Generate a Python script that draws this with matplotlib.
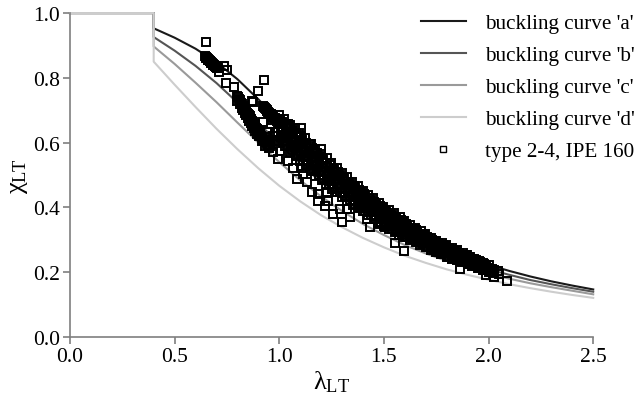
import numpy as np
import matplotlib
matplotlib.use("Agg")
import matplotlib.pyplot as plt

plt.rcParams["font.family"] = ["Liberation Serif", "DejaVu Serif"]
plt.rcParams["mathtext.fontset"] = "custom"
plt.rcParams["mathtext.rm"] = "Liberation Serif"
plt.rcParams["mathtext.it"] = "Liberation Serif"

# buckling curves (EC3), values read at slenderness steps of 0.1
lam_curve = [0.0, 0.4, 0.4, 0.5, 0.6, 0.7, 0.8, 0.9, 1.0, 1.1, 1.2, 1.3, 1.4,
             1.5, 1.6, 1.7, 1.8, 1.9, 2.0, 2.1, 2.2, 2.3, 2.4, 2.5]
chi_a = [1.0, 1.0, 0.953, 0.924, 0.890, 0.848, 0.796, 0.734, 0.666, 0.596, 0.530, 0.470,
         0.418, 0.372, 0.333, 0.299, 0.270, 0.245, 0.223, 0.204, 0.187, 0.172, 0.159, 0.147]
chi_b = [1.0, 1.0, 0.926, 0.884, 0.837, 0.784, 0.724, 0.661, 0.597, 0.535, 0.478, 0.427,
         0.382, 0.342, 0.308, 0.278, 0.252, 0.229, 0.209, 0.192, 0.176, 0.163, 0.151, 0.140]
chi_c = [1.0, 1.0, 0.897, 0.843, 0.785, 0.725, 0.662, 0.600, 0.540, 0.484, 0.434, 0.389,
         0.349, 0.315, 0.284, 0.258, 0.235, 0.214, 0.196, 0.180, 0.166, 0.154, 0.143, 0.132]
chi_d = [1.0, 1.0, 0.850, 0.779, 0.710, 0.643, 0.580, 0.521, 0.467, 0.419, 0.376, 0.339,
         0.306, 0.277, 0.251, 0.229, 0.209, 0.192, 0.177, 0.163, 0.151, 0.140, 0.130, 0.121]

curve_labels = ["buckling curve 'a'", "buckling curve 'b'",
                "buckling curve 'c'", "buckling curve 'd'"]
curve_colors = ["#1a1a1a", "#555555", "#9a9a9a", "#cdcdcd"]

# test results type 2-4, IPE 160 (lambda_LT, chi_LT)
tests = [
    (0.650, 0.910), (0.645, 0.867), (0.652, 0.862), (0.658, 0.858), (0.664, 0.855),
    (0.670, 0.851), (0.676, 0.847), (0.682, 0.843), (0.688, 0.840), (0.694, 0.837),
    (0.700, 0.833), (0.706, 0.830), (0.648, 0.865), (0.655, 0.860), (0.661, 0.856),
    (0.667, 0.853), (0.673, 0.849), (0.679, 0.845), (0.685, 0.841), (0.691, 0.838),
    (0.697, 0.835), (0.703, 0.831),
    (0.736, 0.836), (0.750, 0.824), (0.712, 0.818),
    (0.746, 0.784), (0.784, 0.772), (0.927, 0.793), (0.899, 0.759), (0.870, 0.728),
    (0.875, 0.725),
    (0.798, 0.744), (0.806, 0.735), (0.814, 0.727), (0.822, 0.718), (0.830, 0.710),
    (0.838, 0.701), (0.846, 0.693), (0.854, 0.685), (0.862, 0.677), (0.870, 0.668),
    (0.878, 0.659), (0.886, 0.650), (0.894, 0.641), (0.902, 0.632), (0.910, 0.624),
    (0.918, 0.616), (0.926, 0.609), (0.936, 0.601), (0.946, 0.594),
    (0.802, 0.740), (0.810, 0.731), (0.818, 0.722), (0.826, 0.714), (0.834, 0.705),
    (0.842, 0.697), (0.850, 0.689), (0.858, 0.681), (0.866, 0.672), (0.874, 0.663),
    (0.882, 0.654), (0.890, 0.645), (0.898, 0.636), (0.906, 0.628), (0.914, 0.620),
    (0.922, 0.612), (0.931, 0.605), (0.941, 0.597),
    (0.820, 0.708), (0.835, 0.692), (0.850, 0.676), (0.865, 0.660), (0.880, 0.644),
    (0.895, 0.628),
    (0.800, 0.728), (0.810, 0.718), (0.826, 0.700), (0.840, 0.684), (0.856, 0.668),
    (0.870, 0.652), (0.886, 0.636), (0.902, 0.620), (0.918, 0.604), (0.934, 0.590),
    (0.950, 0.583), (0.958, 0.590),
    (0.923, 0.713), (0.931, 0.706), (0.939, 0.700), (0.947, 0.695), (0.955, 0.690),
    (0.963, 0.685), (0.971, 0.680), (0.979, 0.675), (0.987, 0.670), (0.995, 0.665),
    (1.004, 0.660), (0.927, 0.709), (0.935, 0.703), (0.943, 0.697), (0.951, 0.692),
    (0.959, 0.687), (0.967, 0.682), (0.975, 0.677), (0.983, 0.672), (0.991, 0.667),
    (0.999, 0.662),
    (0.923, 0.664), (0.965, 0.670), (1.042, 0.657), (0.946, 0.633),
    (0.980, 0.633), (1.018, 0.623), (0.942, 0.617), (0.956, 0.602), (0.970, 0.620),
    (0.989, 0.605), (1.018, 0.602), (0.970, 0.571), (1.004, 0.574), (0.994, 0.549),
    (1.042, 0.543), (1.066, 0.522), (1.109, 0.522), (1.114, 0.503), (1.085, 0.488),
    (1.133, 0.478), (1.157, 0.448), (1.185, 0.441), (1.185, 0.420), (1.229, 0.448),
    (1.233, 0.420), (1.219, 0.404), (1.257, 0.380), (1.291, 0.395), (1.324, 0.395),
    (1.300, 0.355), (1.338, 0.370), (1.420, 0.364), (1.434, 0.340), (1.482, 0.349),
    (1.506, 0.340), (1.553, 0.290), (1.597, 0.265), (1.864, 0.210), (1.989, 0.191),
    (2.027, 0.185), (2.089, 0.173), (1.104, 0.645), (1.147, 0.596), (1.200, 0.580),
    # dense band
    (1.002, 0.605), (0.996, 0.632), (1.006, 0.661), (0.999, 0.686),
    (1.028, 0.590), (1.022, 0.615), (1.030, 0.645), (1.024, 0.672),
    (1.051, 0.572), (1.056, 0.603), (1.047, 0.628), (1.053, 0.655),
    (1.078, 0.560), (1.072, 0.585), (1.080, 0.618), (1.075, 0.645),
    (1.097, 0.543), (1.104, 0.574), (1.100, 0.601), (1.096, 0.630),
    (1.128, 0.530), (1.122, 0.556), (1.127, 0.588), (1.123, 0.615),
    (1.150, 0.514), (1.155, 0.541), (1.146, 0.570), (1.152, 0.597),
    (1.173, 0.498), (1.178, 0.527), (1.176, 0.556), (1.171, 0.582),
    (1.202, 0.484), (1.197, 0.510), (1.204, 0.543), (1.199, 0.566),
    (1.224, 0.470), (1.228, 0.498), (1.221, 0.526), (1.227, 0.552),
    (1.251, 0.458), (1.246, 0.483), (1.253, 0.512), (1.249, 0.537),
    (1.274, 0.447), (1.279, 0.472), (1.272, 0.500), (1.277, 0.521),
    (1.301, 0.433), (1.297, 0.459), (1.304, 0.484), (1.298, 0.507),
    (1.323, 0.420), (1.328, 0.446), (1.321, 0.472), (1.326, 0.493),
    (1.352, 0.409), (1.347, 0.432), (1.354, 0.458), (1.349, 0.478),
    (1.374, 0.398), (1.379, 0.421), (1.372, 0.447), (1.377, 0.465),
    (1.402, 0.388), (1.397, 0.409), (1.404, 0.433), (1.399, 0.452),
    (1.423, 0.376), (1.428, 0.398), (1.421, 0.421), (1.426, 0.440),
    (1.451, 0.363), (1.446, 0.386), (1.453, 0.409), (1.449, 0.428),
    (1.474, 0.353), (1.479, 0.374), (1.472, 0.397), (1.477, 0.415),
    (1.502, 0.343), (1.497, 0.363), (1.504, 0.384), (1.498, 0.402),
    (1.523, 0.333), (1.528, 0.352), (1.521, 0.374), (1.526, 0.392),
    (1.551, 0.323), (1.546, 0.343), (1.553, 0.362), (1.549, 0.382),
    (1.574, 0.316), (1.579, 0.333), (1.572, 0.353), (1.577, 0.370),
    (1.602, 0.308), (1.597, 0.324), (1.604, 0.341), (1.598, 0.357),
    (1.623, 0.300), (1.628, 0.316), (1.621, 0.333), (1.626, 0.347),
    (1.651, 0.292), (1.646, 0.307), (1.653, 0.323), (1.649, 0.337),
    (1.674, 0.285), (1.679, 0.299), (1.672, 0.314), (1.677, 0.327),
    (1.702, 0.278), (1.697, 0.291), (1.704, 0.305), (1.698, 0.317),
    (1.723, 0.270), (1.728, 0.283), (1.721, 0.296), (1.726, 0.307),
    (1.751, 0.262), (1.746, 0.274), (1.753, 0.287), (1.749, 0.298),
    (1.774, 0.256), (1.779, 0.268), (1.772, 0.281), (1.777, 0.291),
    (1.802, 0.248), (1.797, 0.260), (1.804, 0.272), (1.798, 0.283),
    (1.823, 0.242), (1.828, 0.254), (1.821, 0.266), (1.826, 0.276),
    (1.851, 0.237), (1.846, 0.248), (1.853, 0.259), (1.849, 0.268),
    (1.874, 0.232), (1.879, 0.242), (1.872, 0.252), (1.877, 0.261),
    (1.902, 0.227), (1.897, 0.236), (1.904, 0.246), (1.898, 0.253),
    (1.923, 0.220), (1.928, 0.230), (1.921, 0.240),
    (1.951, 0.213), (1.946, 0.224), (1.953, 0.236),
    (1.974, 0.207), (1.979, 0.218), (1.972, 0.229),
    (2.002, 0.202), (1.997, 0.212), (2.004, 0.222),
    (2.023, 0.198), (2.028, 0.208),
    (2.051, 0.194), (2.046, 0.203),
    # dense band, in-between columns
    (1.013, 0.606), (1.015, 0.633), (1.011, 0.665),
    (1.038, 0.591), (1.036, 0.618), (1.040, 0.650),
    (1.062, 0.576), (1.065, 0.604), (1.060, 0.636),
    (1.088, 0.562), (1.086, 0.590), (1.090, 0.623),
    (1.112, 0.547), (1.115, 0.575), (1.110, 0.608),
    (1.138, 0.531), (1.136, 0.559), (1.140, 0.591),
    (1.162, 0.516), (1.165, 0.543), (1.160, 0.575),
    (1.188, 0.501), (1.186, 0.528), (1.190, 0.560),
    (1.212, 0.487), (1.215, 0.514), (1.210, 0.545),
    (1.238, 0.474), (1.236, 0.500), (1.240, 0.530),
    (1.262, 0.462), (1.265, 0.487), (1.260, 0.516),
    (1.288, 0.449), (1.286, 0.473), (1.290, 0.501),
    (1.312, 0.436), (1.315, 0.459), (1.310, 0.487),
    (1.338, 0.423), (1.336, 0.446), (1.340, 0.472),
    (1.362, 0.411), (1.365, 0.433), (1.360, 0.459),
    (1.388, 0.401), (1.386, 0.422), (1.390, 0.447),
    (1.412, 0.390), (1.415, 0.411), (1.410, 0.435),
    (1.438, 0.377), (1.436, 0.398), (1.440, 0.423),
    (1.462, 0.365), (1.465, 0.386), (1.460, 0.410),
    (1.488, 0.355), (1.486, 0.375), (1.490, 0.398),
    (1.512, 0.345), (1.515, 0.364), (1.510, 0.387),
    (1.538, 0.335), (1.536, 0.354), (1.540, 0.377),
    (1.562, 0.326), (1.565, 0.345), (1.560, 0.366),
    (1.588, 0.318), (1.586, 0.335), (1.590, 0.355),
    (1.612, 0.310), (1.615, 0.326), (1.610, 0.344),
    (1.638, 0.302), (1.636, 0.317), (1.640, 0.335),
    (1.662, 0.294), (1.665, 0.308), (1.660, 0.325),
    (1.688, 0.286), (1.686, 0.300), (1.690, 0.316),
    (1.712, 0.278), (1.715, 0.291), (1.710, 0.306),
    (1.738, 0.270), (1.736, 0.282), (1.740, 0.297),
    (1.762, 0.263), (1.765, 0.275), (1.760, 0.289),
    (1.788, 0.255), (1.786, 0.267), (1.790, 0.281),
    (1.812, 0.248), (1.815, 0.260), (1.810, 0.274),
    (1.838, 0.243), (1.836, 0.254), (1.840, 0.267),
    (1.862, 0.238), (1.865, 0.248), (1.860, 0.260),
    (1.888, 0.232), (1.886, 0.242), (1.890, 0.253),
    (1.912, 0.226), (1.915, 0.235), (1.910, 0.246),
    (1.938, 0.219), (1.936, 0.228), (1.940, 0.238),
    (1.962, 0.212), (1.965, 0.221), (1.960, 0.231),
    (1.988, 0.206), (1.986, 0.214), (1.990, 0.223),
    (2.012, 0.201), (2.015, 0.209),
    # dense band, third layer
    (1.006, 0.619), (1.007, 0.646), (1.005, 0.673),
    (1.031, 0.604), (1.032, 0.631), (1.030, 0.658),
    (1.056, 0.589), (1.057, 0.616), (1.055, 0.643),
    (1.081, 0.574), (1.082, 0.602), (1.080, 0.630),
    (1.106, 0.560), (1.107, 0.588), (1.105, 0.617),
    (1.131, 0.544), (1.132, 0.572), (1.130, 0.600),
    (1.156, 0.529), (1.157, 0.556), (1.155, 0.583),
    (1.181, 0.514), (1.182, 0.541), (1.180, 0.568),
    (1.206, 0.499), (1.207, 0.526), (1.205, 0.553),
    (1.231, 0.486), (1.232, 0.512), (1.230, 0.538),
    (1.256, 0.472), (1.257, 0.498), (1.255, 0.523),
    (1.281, 0.460), (1.282, 0.484), (1.280, 0.509),
    (1.306, 0.446), (1.307, 0.470), (1.305, 0.494),
    (1.331, 0.433), (1.332, 0.456), (1.330, 0.479),
    (1.356, 0.420), (1.357, 0.442), (1.355, 0.465),
    (1.381, 0.409), (1.382, 0.431), (1.380, 0.453),
    (1.406, 0.399), (1.407, 0.420), (1.405, 0.441),
    (1.431, 0.387), (1.432, 0.408), (1.430, 0.429),
    (1.456, 0.374), (1.457, 0.395), (1.455, 0.416),
    (1.481, 0.363), (1.482, 0.383), (1.480, 0.404),
    (1.506, 0.352), (1.507, 0.372), (1.505, 0.391),
    (1.531, 0.342), (1.532, 0.362), (1.530, 0.381),
    (1.556, 0.332), (1.557, 0.351), (1.555, 0.370),
    (1.581, 0.324), (1.582, 0.342), (1.580, 0.360),
    (1.606, 0.315), (1.607, 0.331), (1.605, 0.348),
    (1.631, 0.307), (1.632, 0.323), (1.630, 0.338),
    (1.656, 0.299), (1.657, 0.314), (1.655, 0.329),
    (1.681, 0.291), (1.682, 0.305), (1.680, 0.319),
    (1.706, 0.282), (1.707, 0.296), (1.705, 0.309),
    (1.731, 0.275), (1.732, 0.287), (1.730, 0.300),
    (1.756, 0.266), (1.757, 0.278), (1.755, 0.290),
    (1.781, 0.259), (1.782, 0.271), (1.780, 0.283),
    (1.806, 0.251), (1.807, 0.263), (1.805, 0.275),
    (1.831, 0.246), (1.832, 0.257), (1.830, 0.268),
    (1.856, 0.240), (1.857, 0.250), (1.855, 0.261),
    (1.881, 0.234), (1.882, 0.244), (1.880, 0.254),
    (1.906, 0.229), (1.907, 0.238), (1.905, 0.247),
    (1.931, 0.222), (1.932, 0.231), (1.930, 0.240),
    (1.956, 0.214), (1.957, 0.223), (1.955, 0.232),
    (1.981, 0.208), (1.982, 0.216), (1.980, 0.225),
]

x_ticks = [0.0, 0.5, 1.0, 1.5, 2.0, 2.5]
y_ticks = [0.0, 0.2, 0.4, 0.6, 0.8, 1.0]

fig = plt.figure(figsize=(6.42, 4.02), dpi=100)
ax = fig.add_axes([0.109, 0.159, 0.815, 0.806])

for chi, lab, col in zip([chi_a, chi_b, chi_c, chi_d], curve_labels, curve_colors):
    ax.plot(lam_curve, chi, color=col, lw=1.5, label=lab, clip_on=False, zorder=2)

pts = np.array(tests)
ax.plot(pts[:, 0], pts[:, 1], ls="none", marker="s", ms=5.2, mfc="none",
        mec="black", mew=1.4, label="type 2-4, IPE 160", clip_on=False, zorder=3)

ax.set_xlim(0, 2.5)
ax.set_ylim(0, 1.0)
ax.set_xticks(x_ticks)
ax.set_yticks(y_ticks)
ax.set_xticklabels([f"{v:.1f}" for v in x_ticks])
ax.set_yticklabels([f"{v:.1f}" for v in y_ticks])
for s in ["top", "right"]:
    ax.spines[s].set_visible(False)
for s in ["left", "bottom"]:
    ax.spines[s].set_color("#7f7f7f")
    ax.spines[s].set_linewidth(1.2)
ax.tick_params(direction="out", length=5, width=1.2, color="#7f7f7f",
               labelsize=15.5, labelcolor="black", pad=2)

ax.set_xlabel(r"$\lambda_{\rm LT}$", fontsize=19, labelpad=2)
ax.set_ylabel(r"$\chi_{\rm LT}$", fontsize=19, labelpad=2)

h, l = ax.get_legend_handles_labels()
leg = fig.legend(h, l, loc="upper left", bbox_to_anchor=(0.643, 0.985), frameon=False,
                 fontsize=15.2, handlelength=2.1, handletextpad=0.9, labelspacing=0.58,
                 borderaxespad=0)
leg.legend_handles[4].set_markersize(4.5)
leg.legend_handles[4].set_markeredgewidth(1.0)

fig.savefig("out.png", dpi=100)
